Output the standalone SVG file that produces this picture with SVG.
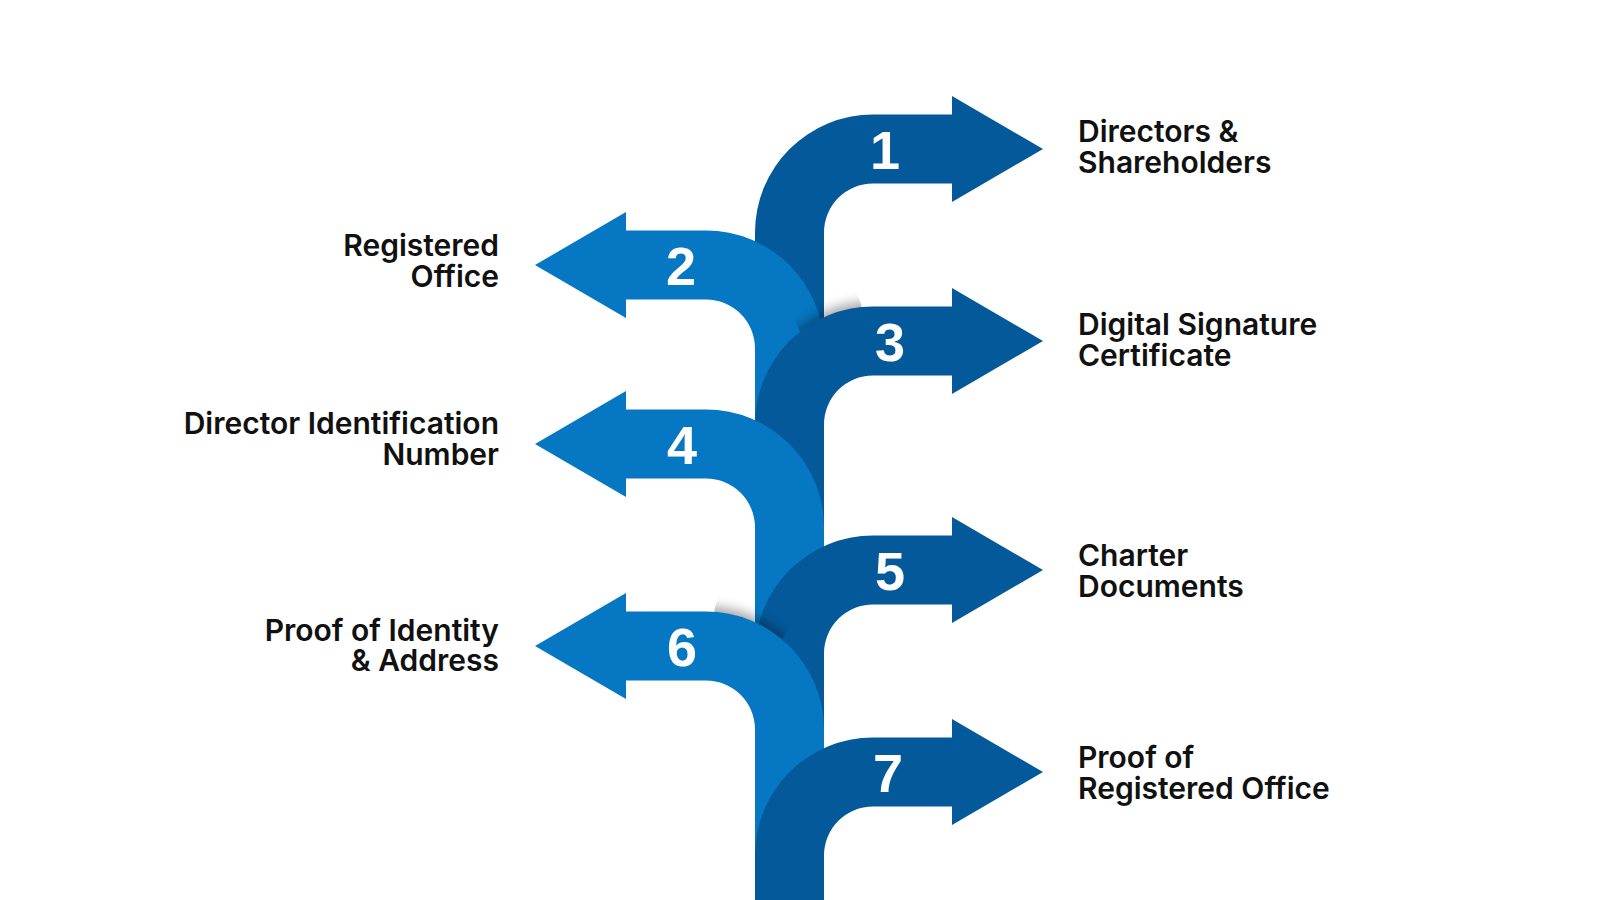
<svg xmlns="http://www.w3.org/2000/svg" width="1600" height="900" viewBox="0 0 1600 900">
  <style>
    .dark { fill: #04599A; }
    .light { fill: #0677C2; }
    .num { fill: #FFFFFF; font-family: "Liberation Sans", Arial, sans-serif; font-weight: 700; font-size: 54px; text-anchor: middle; }
    .lbl { fill: #111111; font-family: Inter, "Noto Sans", sans-serif; font-weight: 600; font-size: 30px; }
    .lblL { text-anchor: end; }
    .shadow { fill: #000000; opacity: 0.35; filter: url(#soft); }
  </style>
  <defs>
    <filter id="soft" x="-20%" y="-20%" width="140%" height="140%">
      <feGaussianBlur stdDeviation="6"/>
    </filter>
    <clipPath id="clip3"><circle cx="828" cy="312" r="34"/></clipPath>
    <clipPath id="clip6"><circle cx="752" cy="616" r="38"/></clipPath>
  </defs>
  <rect width="1600" height="900" fill="#FFFFFF"/>

  <g id="connectors"/>

  <g id="node1">
    <path class="dark" d="M755,352 V232.5 A118,118 0 0 1 873,114.5 H952 V96 L1043,149 L952,202 V183.5 H873 A49,49 0 0 0 824,232.5 V352 Z"/>
    <text class="num" x="885" y="169">1</text>
    <text class="lbl" x="1078" y="142">Directors &amp;</text>
    <text class="lbl" x="1078" y="173">Shareholders</text>
  </g>

  <g id="node2">
    <path class="light" d="M824,426.5 V348.5 A118,118 0 0 0 706,230.5 H626 V212 L535,265 L626,318 V299.5 H706 A49,49 0 0 1 755,348.5 V426.5 Z"/>
    <text class="num" x="681" y="284.5">2</text>
    <text class="lbl lblL" x="499" y="256">Registered</text>
    <text class="lbl lblL" x="499" y="287">Office</text>
  </g>

  <g id="node3">
    <g clip-path="url(#clip3)">
      <path class="shadow" transform="translate(0,-5)" d="M755,529.5 V424.5 A118,118 0 0 1 873,306.5 H952 V288 L1043,341 L952,394 V375.5 H873 A49,49 0 0 0 824,424.5 V529.5 Z"/>
    </g>
    <path class="dark" d="M755,529.5 V424.5 A118,118 0 0 1 873,306.5 H952 V288 L1043,341 L952,394 V375.5 H873 A49,49 0 0 0 824,424.5 V529.5 Z"/>
    <text class="num" x="890" y="360.5">3</text>
    <text class="lbl" x="1078" y="334.5">Digital Signature</text>
    <text class="lbl" x="1078" y="365.5">Certificate</text>
  </g>

  <g id="node4">
    <path class="light" d="M824,655.5 V527.5 A118,118 0 0 0 706,409.5 H626 V391 L535,444 L626,497 V478.5 H706 A49,49 0 0 1 755,527.5 V655.5 Z"/>
    <text class="num" x="682" y="463.5">4</text>
    <text class="lbl lblL" x="499" y="433.5">Director Identification</text>
    <text class="lbl lblL" x="499" y="465">Number</text>
  </g>

  <g id="node5">
    <path class="dark" d="M755,731.5 V653.5 A118,118 0 0 1 873,535.5 H952 V517 L1043,570 L952,623 V604.5 H873 A49,49 0 0 0 824,653.5 V731.5 Z"/>
    <text class="num" x="890" y="589.5">5</text>
    <text class="lbl" x="1078" y="566">Charter</text>
    <text class="lbl" x="1078" y="596.5">Documents</text>
  </g>

  <g id="node6">
    <g clip-path="url(#clip6)">
      <path class="shadow" transform="translate(0,-5)" d="M824,857.5 V729.5 A118,118 0 0 0 706,611.5 H626 V593 L535,646 L626,699 V680.5 H706 A49,49 0 0 1 755,729.5 V857.5 Z"/>
    </g>
    <path class="light" d="M824,857.5 V729.5 A118,118 0 0 0 706,611.5 H626 V593 L535,646 L626,699 V680.5 H706 A49,49 0 0 1 755,729.5 V857.5 Z"/>
    <text class="num" x="682" y="665.5">6</text>
    <text class="lbl lblL" x="499" y="641">Proof of Identity</text>
    <text class="lbl lblL" x="499" y="671">&amp; Address</text>
  </g>

  <g id="node7">
    <path class="dark" d="M755,900 V855.5 A118,118 0 0 1 873,737.5 H952 V719 L1043,772 L952,825 V806.5 H873 A49,49 0 0 0 824,855.5 V900 Z"/>
    <text class="num" x="888" y="791.5">7</text>
    <text class="lbl" x="1078" y="768">Proof of</text>
    <text class="lbl" x="1078" y="799">Registered Office</text>
  </g>
</svg>
